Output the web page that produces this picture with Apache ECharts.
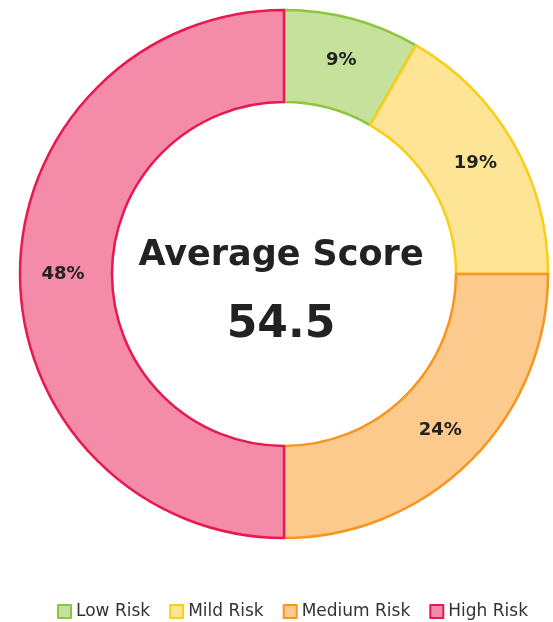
<!DOCTYPE html>
<html>
<head>
<meta charset="utf-8">
<script src="https://cdn.jsdelivr.net/npm/echarts@6/dist/echarts.min.js"></script>
<style>
  html, body { margin: 0; padding: 0; background: #ffffff; }
  #chart { width: 553px; height: 622px; }
</style>
</head>
<body>
<div id="chart"></div>
<script>
// chart data
var categories = ["Low Risk", "Mild Risk", "Medium Risk", "High Risk"];
// arc sizes as drawn (30deg, 60deg, 90deg, 180deg)
var sliceSizes = [1, 2, 3, 6];
// percent labels printed on the slices
var shareLabels = [9, 19, 24, 48];
var averageScore = "54.5";

var fills = ["#c6e19c", "#fde595", "#fdca8e", "#f48ba8"];
var borders = ["#8cc63e", "#f8cf14", "#f7951f", "#e8194f"];

var chart = echarts.init(document.getElementById("chart"));

var pieData = categories.map(function (name, i) {
  return {
    name: name,
    value: sliceSizes[i],
    itemStyle: { color: fills[i], borderColor: borders[i], borderWidth: 2.5 }
  };
});

chart.setOption({
  backgroundColor: "#ffffff",
  animation: false,
  textStyle: { fontFamily: "DejaVu Sans" },
  legend: {
    data: categories,
    right: 20,
    top: 598,
    icon: "rect",
    itemWidth: 13,
    itemHeight: 13,
    itemGap: 19,
    textStyle: { fontSize: 17, color: "#333333", fontFamily: "DejaVu Sans" }
  },
  graphic: [
    {
      type: "text",
      x: 281,
      y: 256,
      style: {
        text: "Average Score",
        textAlign: "center",
        textVerticalAlign: "middle",
        font: "bold 35px DejaVu Sans",
        fill: "#222222"
      }
    },
    {
      type: "text",
      x: 281,
      y: 326,
      style: {
        text: averageScore,
        textAlign: "center",
        textVerticalAlign: "middle",
        font: "bold 44px DejaVu Sans",
        fill: "#222222"
      }
    }
  ],
  series: [
    {
      type: "pie",
      center: [284, 274],
      radius: [172, 264],
      startAngle: 90,
      clockwise: true,
      avoidLabelOverlap: false,
      label: {
        show: true,
        position: "inside",
        formatter: function (p) {
          return shareLabels[p.dataIndex] + "%";
        },
        fontSize: 18,
        fontWeight: "bold",
        color: "#222222",
        fontFamily: "DejaVu Sans"
      },
      labelLine: { show: false },
      emphasis: { disabled: true },
      data: pieData
    }
  ]
});
</script>
</body>
</html>
